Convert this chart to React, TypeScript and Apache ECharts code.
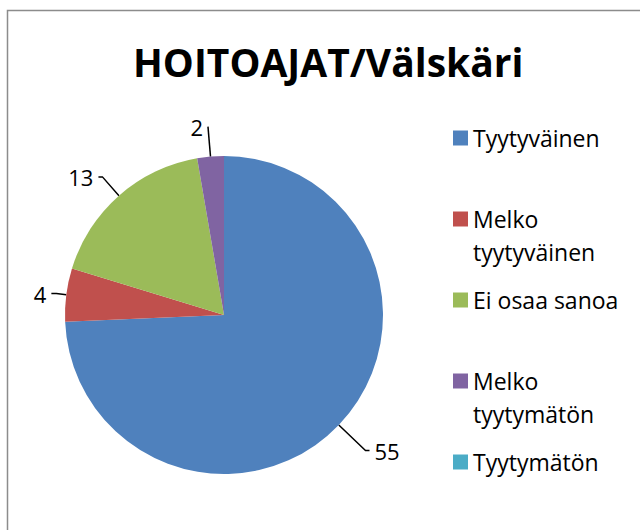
import React, { useEffect, useRef } from "react";
import * as echarts from "echarts";

const titleText = "HOITOAJAT/Välskäri";
const categories = ["Tyytyväinen", "Melko tyytyväinen", "Ei osaa sanoa", "Melko tyytymätön", "Tyytymätön"];
const legendTexts = ["Tyytyväinen", "\nMelko\ntyytyväinen", "Ei osaa sanoa", "\nMelko\ntyytymätön", "Tyytymätön"];
const values = [55, 4, 13, 2, 0];
const colors = ["#4F81BD", "#C0504D", "#9BBB59", "#8064A2", "#4BACC6"];
// leader line styling per slice (radial length, horizontal length)
const leaderLen = [37, 10, 25, 30, 0];
const leaderLen2 = [4, 5, 4, 0, 0];

const FONT = "'Open Sans', 'Noto Sans', sans-serif";

export default function App() {
  const ref = useRef<HTMLDivElement>(null);
  useEffect(() => {
    if (!ref.current) return;
    const chart = echarts.init(ref.current, undefined, { renderer: "svg" });
    const data = categories.map((name, i) => {
      const item: any = {
        name,
        value: values[i],
        itemStyle: { color: colors[i] },
        labelLine: { length: leaderLen[i], length2: leaderLen2[i] },
      };
      if (values[i] === 0) {
        item.label = { show: false };
        item.labelLine = { show: false };
      }
      return item;
    });
    chart.setOption({
      animation: false,
      backgroundColor: "#ffffff",
      title: {
        text: titleText,
        left: 133,
        top: 42,
        padding: 0,
        textStyle: { fontFamily: FONT, fontWeight: "bold", fontSize: 39, color: "#000" },
      },
      graphic: [
        {
          type: "rect",
          z: -10,
          silent: true,
          shape: { x: 7.5, y: 10.5, width: 700, height: 600 },
          style: { fill: "none", stroke: "#8c8c8c", lineWidth: 1.5 },
        },
      ],
      legend: {
        orient: "vertical",
        left: 453,
        top: 121.5,
        padding: 0,
        itemWidth: 15,
        itemHeight: 15,
        itemGap: 15,
        icon: "rect",
        selectedMode: false,
        data: categories,
        formatter: (name: string) => legendTexts[categories.indexOf(name)],
        textStyle: { fontFamily: FONT, fontSize: 23, lineHeight: 33, color: "#000" },
      },
      series: [
        {
          type: "pie",
          center: [224, 315],
          radius: 159,
          startAngle: 90,
          clockwise: true,
          data,
          itemStyle: { borderWidth: 0 },
          label: {
            show: true,
            position: "outside",
            formatter: "{c}",
            fontFamily: FONT,
            fontSize: 22,
            color: "#000",
          },
          labelLine: {
            show: true,
            lineStyle: { color: "#000", width: 1.5 },
          },
          emphasis: { disabled: true },
        },
      ],
    });
    return () => chart.dispose();
  }, []);
  return (
    <div
      ref={ref}
      style={{ position: "fixed", left: 0, top: 0, width: 640, height: 530 }}
    />
  );
}
